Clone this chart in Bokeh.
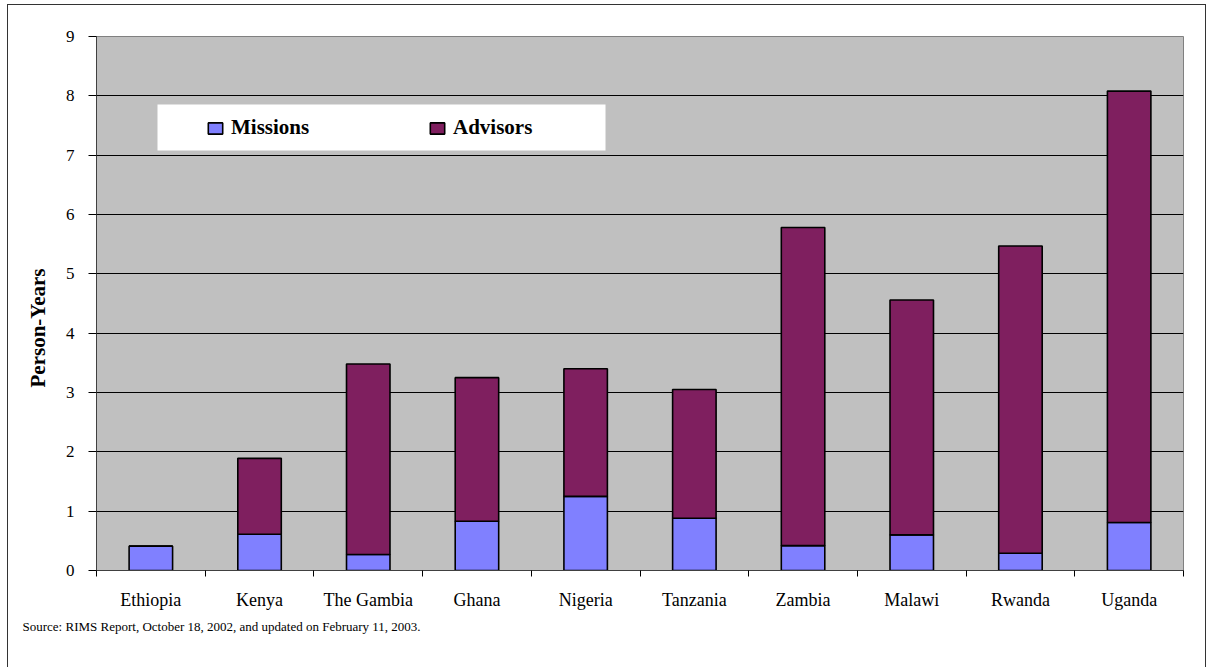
from bokeh.plotting import figure
from bokeh.models import (Range1d, FixedTicker, Legend, LegendItem, BoxAnnotation, Title,
                          ColumnDataSource)
from bokeh.embed import file_html
from bokeh.resources import INLINE

# ---- data ----
countries = ["Ethiopia", "Kenya", "The Gambia", "Ghana", "Nigeria",
             "Tanzania", "Zambia", "Malawi", "Rwanda", "Uganda"]
missions = [0.41, 0.61, 0.27, 0.83, 1.25, 0.88, 0.42, 0.60, 0.29, 0.81]
advisors = [0.00, 1.28, 3.21, 2.42, 2.15, 2.17, 5.36, 3.96, 5.18, 7.27]
series = ["Missions", "Advisors"]
y_ticks = [0, 1, 2, 3, 4, 5, 6, 7, 8, 9]
y_title = "Person-Years"
source_note = "Source: RIMS Report, October 18, 2002, and updated on February 11, 2003."

# ---- styles ----
FONT = "Liberation Serif"
colors = ["#8080FF", "#7F1F5F"]

n = len(countries)
centers = [i + 0.5 for i in range(n)]          # category slot centres
edges = list(range(n + 1))                     # category slot boundaries

src = ColumnDataSource(dict(x=centers, country=countries, Missions=missions, Advisors=advisors))

p = figure(x_range=Range1d(0, n), y_range=Range1d(0, 9),
           width=1199, height=663, output_backend="svg", toolbar_location=None,
           min_border_left=88, min_border_right=24, min_border_top=31, min_border_bottom=98)
p.styles = {"margin-left": "7px", "margin-top": "4px",
            "border-left": "1px solid #333333", "border-top": "1px solid #333333",
            "border-right": "1px solid #333333"}

p.background_fill_color = "#C0C0C0"
p.border_fill_color = "white"
p.outline_line_color = "#808080"
p.outline_line_width = 1

renderers = p.vbar_stack(series, x="x", width=0.4, source=src,
                         fill_color=colors, line_color="black", line_width=1.6)

# y axis
ya = p.yaxis[0]
ya.ticker = FixedTicker(ticks=y_ticks)
ya.major_tick_out = 8
ya.major_tick_in = 0
ya.minor_tick_line_color = None
ya.major_tick_line_color = "black"
ya.axis_line_color = "#404040"
ya.major_label_text_font = FONT
ya.major_label_text_font_size = "17px"
ya.major_label_text_color = "black"
ya.major_label_standoff = 14

# y title (side title so it can sit slightly below centre, as in the original)
ytitle = Title(text=y_title, align="left", offset=183, standoff=25,
               text_font=FONT, text_font_size="21px", text_font_style="bold",
               text_color="black")
p.add_layout(ytitle, "left")

p.ygrid.ticker = FixedTicker(ticks=y_ticks)
p.ygrid.grid_line_color = "black"
p.ygrid.grid_line_width = 1
p.xgrid.grid_line_color = None

# x axis: labels at slot centres, tick marks at slot boundaries
xa = p.xaxis[0]
xa.ticker = FixedTicker(ticks=centers, minor_ticks=edges)
xa.major_label_overrides = {c: name for c, name in zip(centers, countries)}
xa.major_tick_line_color = None
xa.major_tick_out = 6
xa.major_tick_in = 0
xa.minor_tick_line_color = "black"
xa.minor_tick_out = 6
xa.minor_tick_in = 0
xa.axis_line_color = "#404040"
xa.major_label_text_font = FONT
xa.major_label_text_font_size = "18px"
xa.major_label_text_color = "black"
xa.major_label_standoff = 13

# legend backdrop + legend
box = BoxAnnotation(left=61, right=509, top=466, bottom=420,
                    left_units="screen", right_units="screen",
                    top_units="screen", bottom_units="screen",
                    fill_color="white", fill_alpha=1.0, line_color=None)
p.add_layout(box)
legend = Legend(items=[LegendItem(label=s, renderers=[r]) for s, r in zip(series, renderers)],
                location=(110, 430), orientation="horizontal",
                background_fill_alpha=0, border_line_color=None,
                padding=0, margin=0, spacing=47, label_width=150, label_standoff=7,
                glyph_width=18, glyph_height=14, label_height=20,
                label_text_font=FONT, label_text_font_style="bold",
                label_text_font_size="21px", label_text_color="black")
p.add_layout(legend)

note = Title(text=source_note, align="left", offset=-74, standoff=9,
             text_font=FONT, text_font_size="13px", text_font_style="normal",
             text_color="black")
p.add_layout(note, "below")

open("out.html", "w").write(file_html(p, INLINE))
